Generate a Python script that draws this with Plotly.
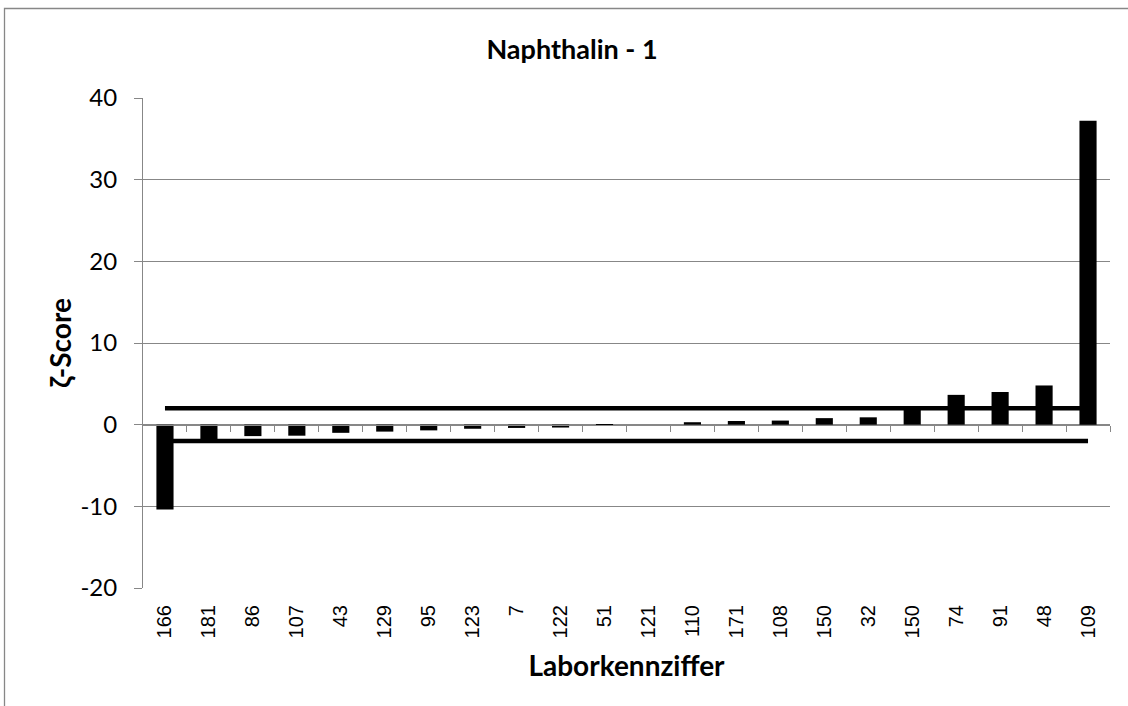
import plotly.graph_objects as go

# ---- data ----
labs = ["166", "181", "86", "107", "43", "129", "95", "123", "7", "122", "51",
        "121", "110", "171", "108", "150", "32", "150", "74", "91", "48", "109"]
zeta_scores = [-10.4, -1.8, -1.4, -1.35, -1.0, -0.85, -0.7, -0.5, -0.4, -0.35, -0.15,
               0.0, 0.3, 0.45, 0.5, 0.8, 0.9, 2.2, 3.65, 4.0, 4.8, 37.2]
upper_limit = 2
lower_limit = -2
y_ticks = [-20, -10, 0, 10, 20, 30, 40]
y_ticklabels = ["-20", "-10", "0", "10", "20", "30", "40"]

title_text = "Naphthalin - 1"
x_title = "Laborkennziffer"
y_title = "ζ-Score"

# ---- figure ----
pos = list(range(len(labs)))
GRID = "#878787"
W, H = 1128, 706
L, R, T, B = 143, 18, 98, 118
pw, ph = W - L - R, H - T - B

fig = go.Figure()
fig.add_trace(go.Bar(x=pos, y=zeta_scores, marker=dict(color="black", line=dict(width=0)),
                     width=0.39, xaxis="x", yaxis="y", hoverinfo="x+y"))
fig.add_trace(go.Scatter(x=[pos[0], pos[-1]], y=[upper_limit, upper_limit], mode="lines",
                         line=dict(color="black", width=4.5), xaxis="x2", yaxis="y"))
fig.add_trace(go.Scatter(x=[pos[0], pos[-1]], y=[lower_limit, lower_limit], mode="lines",
                         line=dict(color="black", width=4.5), xaxis="x2", yaxis="y"))

xr = [-0.5, len(labs) - 0.5]
bx0 = (4.5 - L) / pw
bx1 = (1300 - L) / pw
by1 = (H - 8.5 - B) / ph
by0 = (H - 800 - B) / ph
fig.update_layout(
    width=W, height=H,
    margin=dict(l=L, r=R, t=T, b=B, pad=0),
    paper_bgcolor="white", plot_bgcolor="white",
    showlegend=False,
    title=dict(text="<b>" + title_text + "</b>", x=572 / W, xref="container", xanchor="center",
               y=1 - 50 / H, yref="container", yanchor="middle",
               font=dict(family="Lato", size=27, color="black")),
    xaxis=dict(range=xr, tickmode="array", tickvals=pos, ticktext=labs, tickangle=-90,
               ticks="", showgrid=False, zeroline=False, showline=False,
               ticklabelstandoff=12,
               tickfont=dict(family="Liberation Sans", size=20, color="black"),
               title=dict(text="<b>" + x_title + "</b>", standoff=19,
                          font=dict(family="Lato", size=28, color="black"))),
    xaxis2=dict(range=xr, overlaying="x", anchor="free", position=1 / 3,
                showticklabels=False, showgrid=False, zeroline=False,
                showline=True, linecolor=GRID, linewidth=1,
                tickmode="array", tickvals=[p + 0.5 for p in pos], ticks="outside",
                ticklen=6, tickcolor=GRID, tickwidth=1),
    yaxis=dict(range=[-20, 40], tickmode="array", tickvals=y_ticks, ticktext=y_ticklabels,
               ticks="outside", ticklen=8, tickcolor=GRID, ticklabelstandoff=12,
               showgrid=True, gridcolor=GRID, gridwidth=1,
               zeroline=False, showline=True, linecolor=GRID, linewidth=1,
               tickfont=dict(family="Lato", size=24, color="black"),
               title=dict(text="<b>" + y_title + "</b>", standoff=0,
                          font=dict(family="Lato", size=28, color="black"))),
    shapes=[
        dict(type="path", xref="paper", yref="paper",
             path=f"M {bx0},{by0} L {bx0},{by1} L {bx1},{by1}",
             line=dict(color=GRID, width=1.3), layer="below"),
    ],
)

fig.write_html(
    "out.html", config={"displayModeBar": False},
    post_script=("document.documentElement.style.overflow='hidden';"
                 "document.body.style.margin='0';document.body.style.overflow='hidden';"))
